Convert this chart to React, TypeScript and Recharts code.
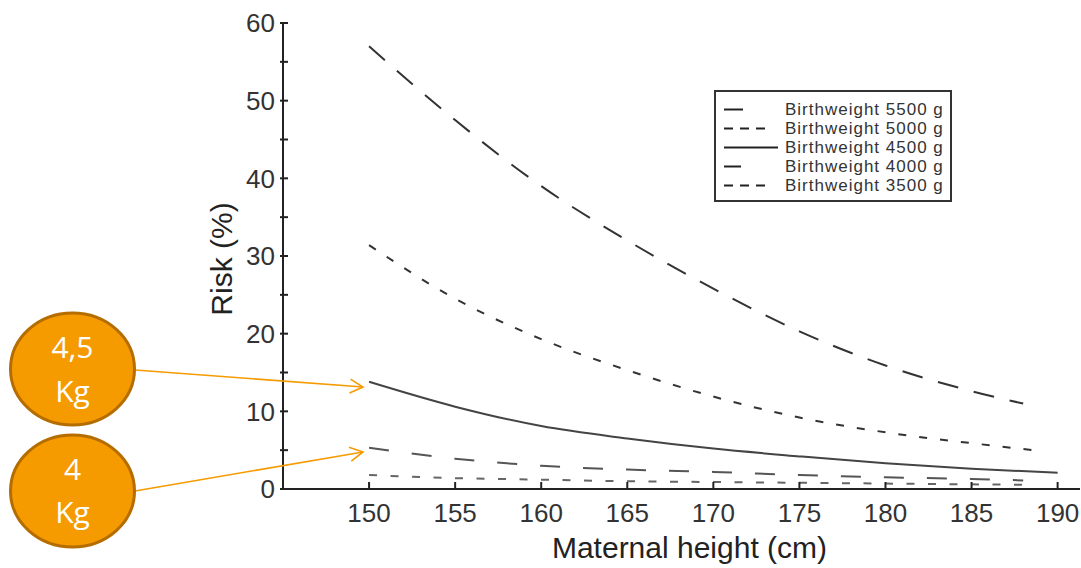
import { LineChart, Line, XAxis, YAxis, Legend } from 'recharts'

const heights = [150, 155, 160, 165, 170, 175, 180, 185, 188, 189, 190]
const risk5500 = [57, 47.5, 39, 32, 25.8, 20.3, 15.9, 12.6, 11.0, null, null]
const risk5000 = [31.4, 24.5, 19.3, 15.3, 11.9, 9.2, 7.3, 5.9, null, 4.9, null]
const risk4500 = [13.8, 10.6, 8.1, 6.5, 5.2, 4.2, 3.3, 2.6, null, null, 2.1]
const risk4000 = [5.3, 3.9, 3.0, 2.5, 2.2, 1.8, 1.5, 1.3, 1.1, null, null]
const risk3500 = [1.8, 1.4, 1.2, 1.0, 0.9, 0.8, 0.7, 0.6, 0.55, null, null]

const xTicks = [150, 155, 160, 165, 170, 175, 180, 185, 190]
const yTicks = [0, 5, 10, 15, 20, 25, 30, 35, 40, 45, 50, 55, 60]

const series = [
  { key: 'bw5500', name: 'Birthweight 5500 g', values: risk5500, dash: '21 16', color: '#333', sample: 19, sampleDash: '' },
  { key: 'bw5000', name: 'Birthweight 5000 g', values: risk5000, dash: '8 13', color: '#333', sample: 41, sampleDash: '9 7' },
  { key: 'bw4500', name: 'Birthweight 4500 g', values: risk4500, dash: '', color: '#444', sample: 54, sampleDash: '' },
  { key: 'bw4000', name: 'Birthweight 4000 g', values: risk4000, dash: '20 23', color: '#555', sample: 17, sampleDash: '' },
  { key: 'bw3500', name: 'Birthweight 3500 g', values: risk3500, dash: '8 13.5', color: '#666', sample: 41, sampleDash: '9 7' },
]

const data = heights.map((h, i) => {
  const row: Record<string, number | null> = { height: h }
  series.forEach(s => { row[s.key] = s.values[i] })
  return row
})

const font = '"Liberation Sans", Arial, Helvetica, sans-serif'

function YTick(props: any) {
  const { x, y, payload } = props
  return (
    <g>
      <line x1={x - 3} x2={x + 5} y1={y} y2={y} stroke="#222" strokeWidth={2} />
      {payload.value % 10 === 0 && (
        <text x={x - 8} y={y} dy="0.36em" textAnchor="end" fontSize={26} fill="#333" fontFamily={font}>
          {payload.value}
        </text>
      )}
    </g>
  )
}

function XTick(props: any) {
  const { x, y, payload } = props
  return (
    <g>
      <line x1={x} x2={x} y1={y - 7} y2={y} stroke="#222" strokeWidth={2} />
      <text x={x} y={y + 33} textAnchor="middle" fontSize={26} fill="#333" fontFamily={font}>
        {payload.value}
      </text>
    </g>
  )
}

function LegendBox() {
  return (
    <div style={{ border: '2px solid #333', padding: '8px 0 5px 8px', background: '#fff', fontFamily: font }}>
      {series.map(s => (
        <div key={s.key} style={{ display: 'flex', alignItems: 'center', height: 19 }}>
          <svg width={61} height={19} style={{ flexShrink: 0 }}>
            <line x1={0} x2={s.sample} y1={9.5} y2={9.5} stroke="#222" strokeWidth={2}
              strokeDasharray={s.sampleDash || undefined} />
          </svg>
          <span style={{ fontSize: 17, letterSpacing: 1, color: '#333', lineHeight: '19px', whiteSpace: 'nowrap' }}>
            {s.name}
          </span>
        </div>
      ))}
    </div>
  )
}

function Callouts() {
  const orange = '#f59b00'
  return (
    <svg width={1081} height={568} style={{ position: 'absolute', left: 0, top: 0, pointerEvents: 'none' }}>
      <defs>
        <marker id="head" markerWidth={16} markerHeight={18} refX={14} refY={8} orient="auto" markerUnits="userSpaceOnUse">
          <path d="M1,1 L14,8 L1,15" fill="none" stroke={orange} strokeWidth={1.6} />
        </marker>
      </defs>
      <line x1={135} y1={370} x2={363} y2={387} stroke={orange} strokeWidth={1.6} markerEnd="url(#head)" />
      <line x1={135} y1={491} x2={363} y2={452} stroke={orange} strokeWidth={1.6} markerEnd="url(#head)" />
      <ellipse cx={72.5} cy={369} rx={62} ry={56} fill={orange} stroke="#b56d00" strokeWidth={3} />
      <ellipse cx={72.5} cy={491} rx={62} ry={56} fill={orange} stroke="#b56d00" strokeWidth={3} />
      <g fill="#fff" fontSize={30} fontFamily='"Open Sans", sans-serif' textAnchor="middle">
        <text x={72.5} y={358}>4,5</text>
        <text x={72.5} y={402}>Kg</text>
        <text x={72.5} y={480}>4</text>
        <text x={72.5} y={523}>Kg</text>
      </g>
    </svg>
  )
}

export default function App() {
  return (
    <div style={{ position: 'absolute', left: 0, top: 0, width: 1081, height: 568, background: '#fff' }}>
      <LineChart width={1081} height={568} data={data} margin={{ top: 23, right: 1, bottom: 0, left: 0 }}>
        <XAxis dataKey="height" type="number" domain={[145, 191.3]} ticks={xTicks} interval={0}
          tickSize={0} tickMargin={0} tickLine={false} tick={<XTick />} height={79}
          axisLine={{ stroke: '#222', strokeWidth: 2 }}
          label={{
            content: (p: any) => (
              <text x={p.viewBox.x + p.viewBox.width / 2 + 8} y={p.viewBox.y + p.viewBox.height - 10}
                textAnchor="middle" fontSize={30} fill="#222" fontFamily={font}>Maternal height (cm)</text>
            ),
          }} />
        <YAxis type="number" domain={[0, 60]} ticks={yTicks} interval={0} width={283}
          tickSize={0} tickMargin={0} tickLine={false} tick={<YTick />}
          axisLine={{ stroke: '#222', strokeWidth: 2 }}
          label={{
            content: (p: any) => (
              <text x={221} y={p.viewBox.y + p.viewBox.height / 2 + 3} dy="0.36em"
                transform={`rotate(-90, 221, ${p.viewBox.y + p.viewBox.height / 2 + 3})`}
                textAnchor="middle" fontSize={30} fill="#222" fontFamily={font}>Risk (%)</text>
            ),
          }} />
        {series.map(s => (
          <Line key={s.key} dataKey={s.key} name={s.name} type="monotone" stroke={s.color} strokeWidth={2}
            strokeDasharray={s.dash || undefined} dot={false} activeDot={false} connectNulls
            isAnimationActive={false} />
        ))}
        <Legend layout="vertical" align="center" verticalAlign="middle" content={<LegendBox />}
          wrapperStyle={{ left: 714, top: 90, width: 238 }} />
      </LineChart>
      <Callouts />
    </div>
  )
}
